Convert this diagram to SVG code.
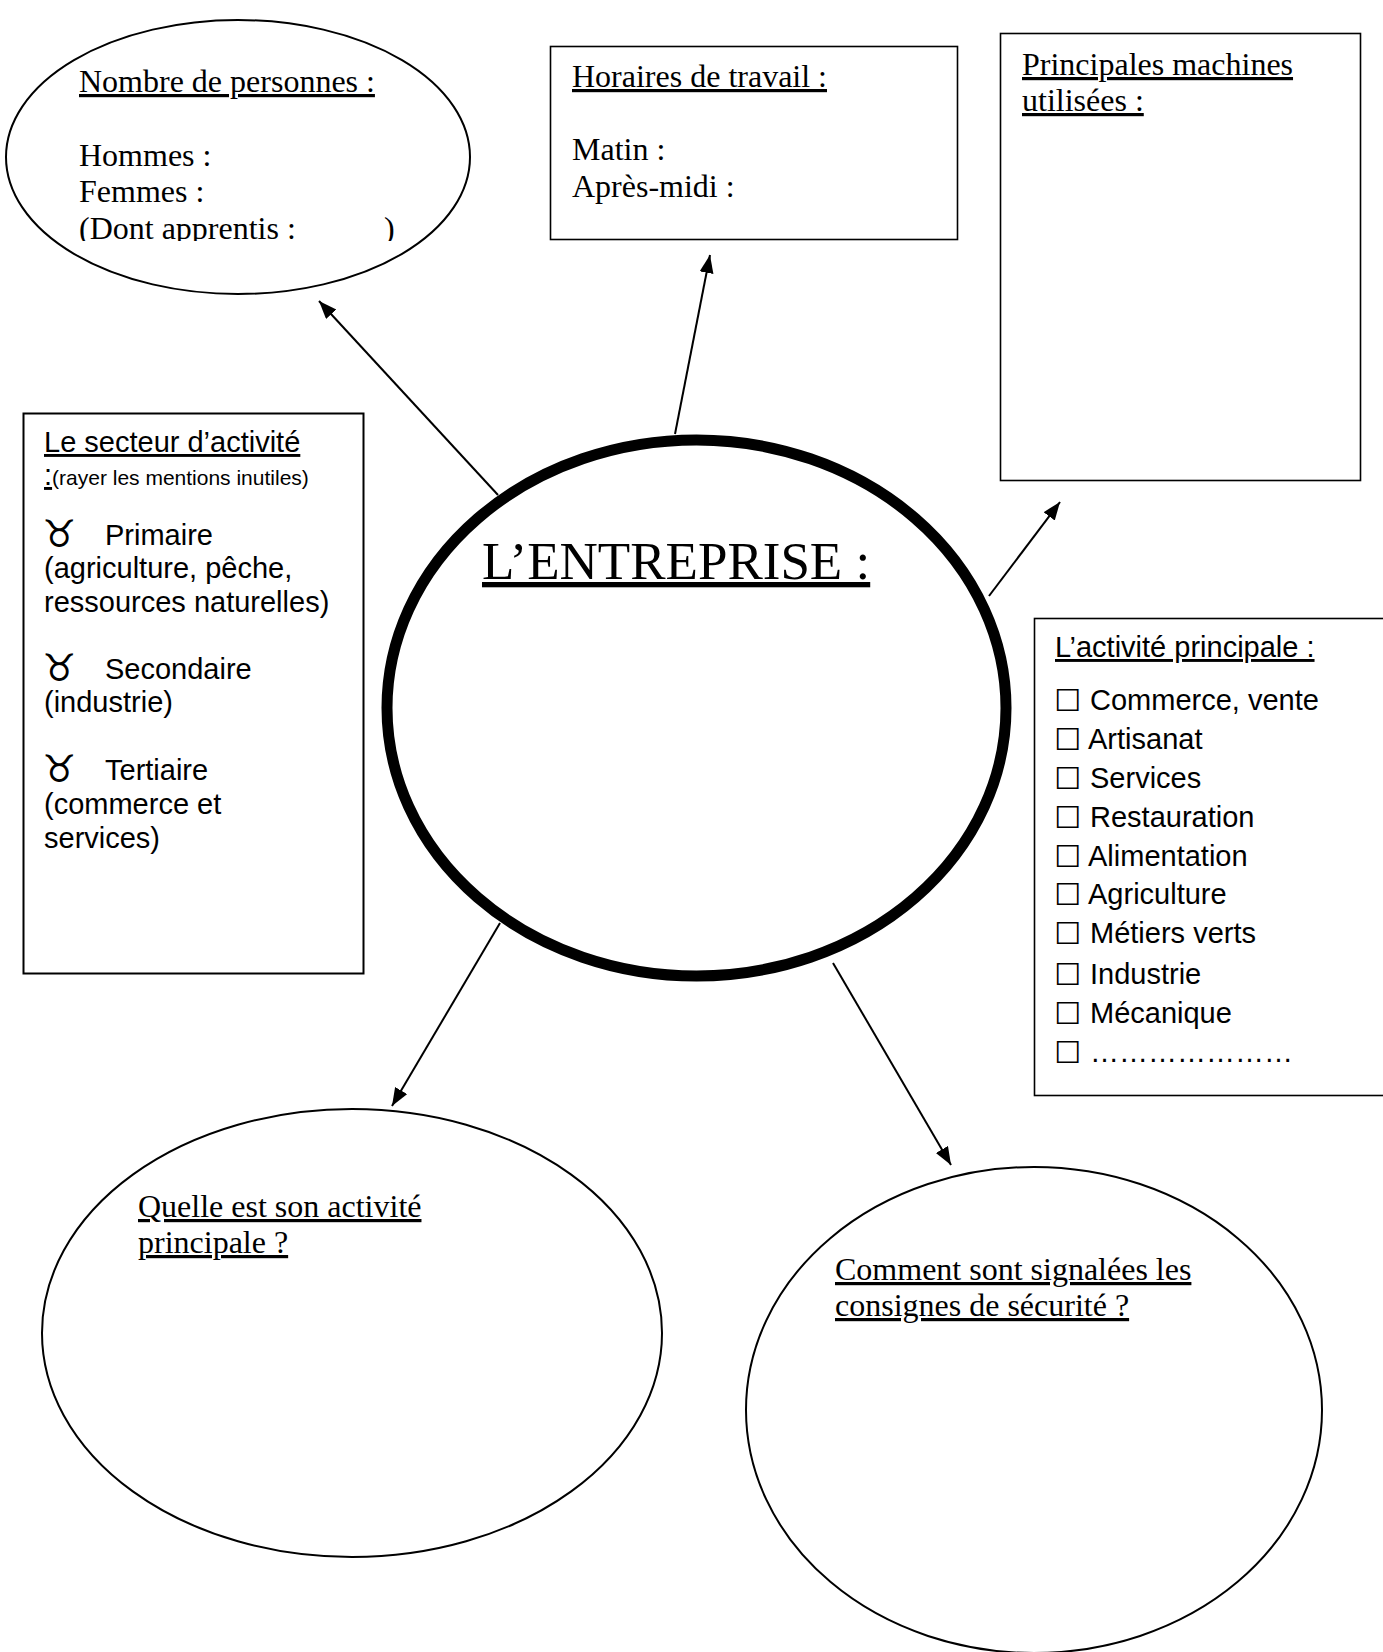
<svg xmlns="http://www.w3.org/2000/svg" width="1383" height="1652" viewBox="0 0 1383 1652">
<style>
.shape{fill:#fff;stroke:#000;stroke-width:2}
.box{fill:#fff;stroke:#000;stroke-width:1.6}
.serif{font-family:"Liberation Serif","Times New Roman",serif;font-size:32px;fill:#000}
.sans{font-family:"Liberation Sans",Arial,sans-serif;font-size:29px;fill:#000}
.sym{font-family:"DejaVu Sans",sans-serif;font-size:38px;fill:#000}
.chk{font-family:"DejaVu Sans",sans-serif;font-size:30px;fill:#000}
.u{text-decoration:underline;text-decoration-skip-ink:none}
.conn{stroke:#000;stroke-width:2;fill:none;marker-end:url(#arr)}
</style>
<defs>
<marker id="arr" markerUnits="userSpaceOnUse" markerWidth="20" markerHeight="16" refX="18" refY="7" orient="auto">
<path d="M0,0 L18,7 L0,14 Z" fill="#000"/>
</marker>
<clipPath id="clipPers"><rect x="0" y="0" width="480" height="241"/></clipPath>
</defs>
<rect width="1383" height="1652" fill="#fff"/>

<g id="connectors">
<line class="conn" x1="498" y1="495" x2="319" y2="301"/>
<line class="conn" x1="675" y1="434" x2="710" y2="255"/>
<line class="conn" x1="989" y1="596" x2="1060" y2="502"/>
<line class="conn" x1="500" y1="923" x2="392" y2="1106"/>
<line class="conn" x1="833" y1="963" x2="951" y2="1165"/>
</g>

<g id="node-personnes">
<ellipse class="shape" cx="238" cy="157" rx="232" ry="137"/>
<g clip-path="url(#clipPers)">
<text class="serif u" x="79" y="92">Nombre de personnes :</text>
<text class="serif" x="79" y="166">Hommes :</text>
<text class="serif" x="79" y="202">Femmes :</text>
<text class="serif" x="79" y="239">(Dont apprentis :<tspan x="384">)</tspan></text>
</g>
</g>

<g id="node-horaires">
<rect class="box" x="550.5" y="46.5" width="407" height="193"/>
<text class="serif u" x="572" y="87">Horaires de travail :</text>
<text class="serif" x="572" y="160">Matin :</text>
<text class="serif" x="572" y="197">Après-midi :</text>
</g>

<g id="node-machines">
<rect class="box" x="1000.5" y="33.5" width="360" height="447"/>
<text class="serif u" x="1022" y="75">Principales machines</text>
<text class="serif u" x="1022" y="111">utilisées :</text>
</g>

<g id="node-secteur">
<rect class="box" x="23.5" y="413.5" width="340" height="560" style="stroke-width:2"/>
<text class="sans u" x="44" y="452">Le secteur d’activité</text>
<text class="sans" x="44" y="485"><tspan class="u">:</tspan><tspan style="font-size:21px">(rayer les mentions inutiles)</tspan></text>
<text class="sym" x="42" y="547">♉</text>
<text class="sans" x="105" y="545">Primaire</text>
<text class="sans" x="44" y="578">(agriculture, pêche,</text>
<text class="sans" x="44" y="612">ressources naturelles)</text>
<text class="sym" x="42" y="681">♉</text>
<text class="sans" x="105" y="679">Secondaire</text>
<text class="sans" x="44" y="712">(industrie)</text>
<text class="sym" x="42" y="782">♉</text>
<text class="sans" x="105" y="780">Tertiaire</text>
<text class="sans" x="44" y="814">(commerce et</text>
<text class="sans" x="44" y="848">services)</text>
</g>

<g id="node-entreprise">
<ellipse cx="696.5" cy="708" rx="309.5" ry="268" fill="#fff" stroke="#000" stroke-width="11"/>
<text x="482" y="579" class="u" style="font-family:'Liberation Serif','Times New Roman',serif;font-size:53px;fill:#000">L’ENTREPRISE :</text>
</g>

<g id="node-activite">
<rect class="box" x="1034.5" y="618.5" width="360" height="477"/>
<text class="sans u" x="1055" y="657">L’activité principale :</text>
<g class="chk">
<text x="1054" y="711">☐</text>
<text x="1054" y="750">☐</text>
<text x="1054" y="789">☐</text>
<text x="1054" y="828">☐</text>
<text x="1054" y="867">☐</text>
<text x="1054" y="905">☐</text>
<text x="1054" y="944">☐</text>
<text x="1054" y="985">☐</text>
<text x="1054" y="1024">☐</text>
<text x="1054" y="1063">☐</text>
</g>
<text class="sans" x="1090" y="710">Commerce, vente</text>
<text class="sans" x="1088" y="749">Artisanat</text>
<text class="sans" x="1090" y="788">Services</text>
<text class="sans" x="1090" y="827">Restauration</text>
<text class="sans" x="1088" y="866">Alimentation</text>
<text class="sans" x="1088" y="904">Agriculture</text>
<text class="sans" x="1090" y="943">Métiers verts</text>
<text class="sans" x="1090" y="984">Industrie</text>
<text class="sans" x="1090" y="1023">Mécanique</text>
<text class="sans" x="1090" y="1062">…………………</text>
</g>

<g id="node-question-activite">
<ellipse class="shape" cx="352" cy="1333" rx="310" ry="224"/>
<text class="serif u" x="138" y="1217">Quelle est son activité</text>
<text class="serif u" x="138" y="1253">principale ?</text>
</g>

<g id="node-question-securite">
<ellipse class="shape" cx="1034" cy="1410" rx="288" ry="243"/>
<text class="serif u" x="835" y="1280">Comment sont signalées les</text>
<text class="serif u" x="835" y="1316">consignes de sécurité ?</text>
</g>
</svg>
